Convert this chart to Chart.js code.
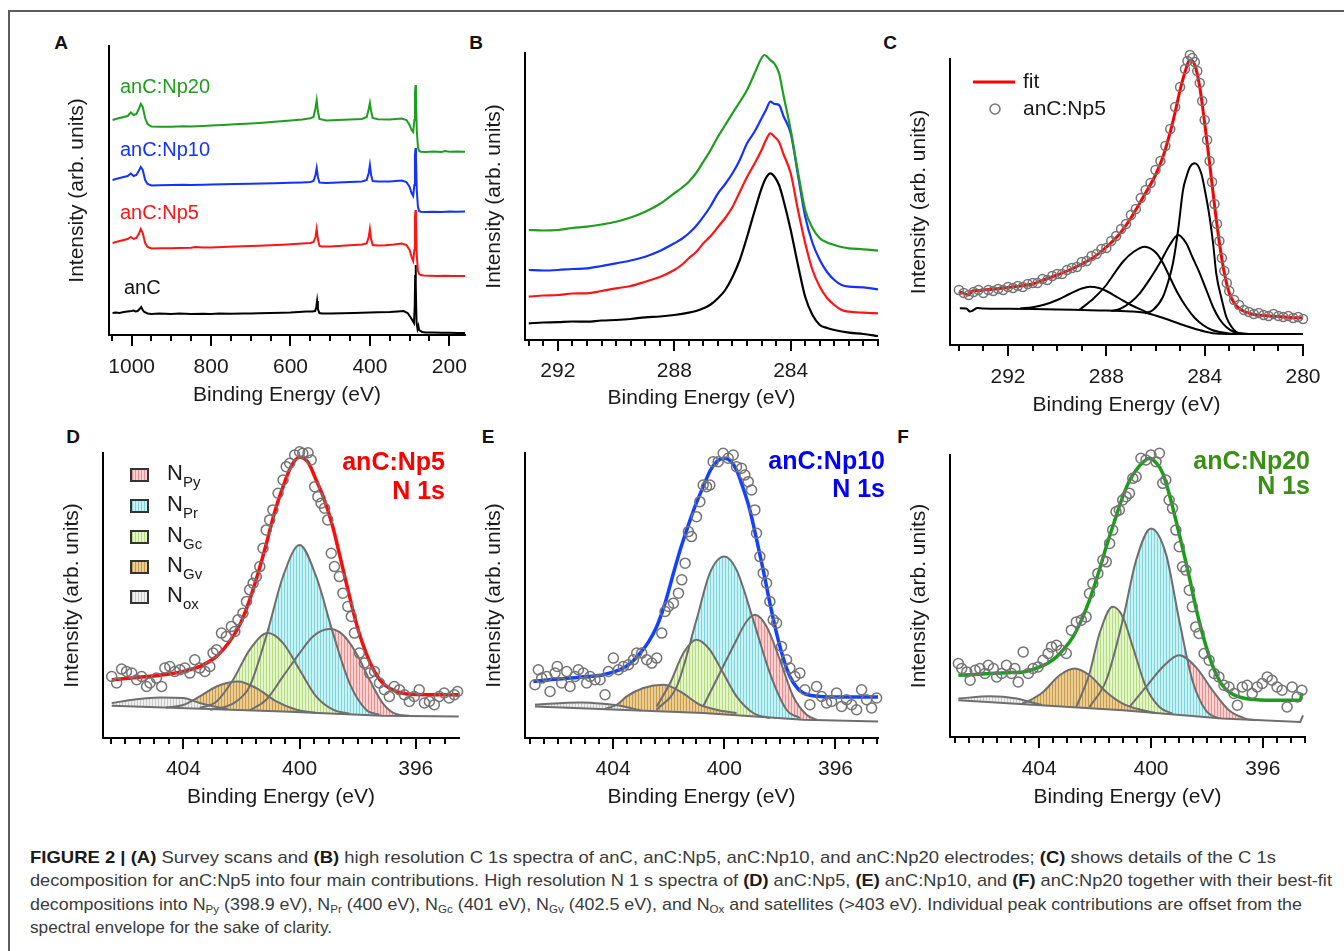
<!DOCTYPE html>
<html>
<head>
<meta charset="utf-8">
<title>XPS spectra of anC electrodes</title>
<script src="https://cdn.jsdelivr.net/npm/chart.js@4.4.1/dist/chart.umd.min.js"></script>
<style>
  body { margin: 0; background: #fff; width: 1344px; height: 951px; overflow: hidden; position: relative;
         font-family: "Liberation Sans", Arial, sans-serif; }
  .frame { position: absolute; left: 8px; top: 10px; width: 1400px; height: 1000px; border: 2px solid #5c5c5c; }
  canvas { position: absolute; }
  .tag { position: absolute; font-weight: bold; font-size: 19px; color: #111; transform: translate(-50%, -50%); }
  .cap { position: absolute; left: 30px; font-size: 17px; line-height: 18px; color: #3a3a3a; white-space: nowrap; transform-origin: 0 50%; }
  .cap b { color: #1a1a1a; }
  .cap sub { font-size: 11px; vertical-align: -3px; line-height: 0; }
</style>
</head>
<body>
<div class="frame"></div>
<div class="tag" style="left:61px;top:43px">A</div>
<div class="tag" style="left:476px;top:43px">B</div>
<div class="tag" style="left:890px;top:43px">C</div>
<div class="tag" style="left:73px;top:437px">D</div>
<div class="tag" style="left:488px;top:437px">E</div>
<div class="tag" style="left:903px;top:437px">F</div>

<div class="cap" id="cap1" style="top:849px"><b>FIGURE 2 | (A)</b> Survey scans and <b>(B)</b> high resolution C 1s spectra of anC, anC:Np5, anC:Np10, and anC:Np20 electrodes; <b>(C)</b> shows details of the C 1s</div>
<div class="cap" id="cap2" style="top:872px">decomposition for anC:Np5 into four main contributions. High resolution N 1 s spectra of <b>(D)</b> anC:Np5, <b>(E)</b> anC:Np10, and <b>(F)</b> anC:Np20 together with their best-fit</div>
<div class="cap" id="cap3" style="top:896px">decompositions into N<sub>Py</sub> (398.9 eV), N<sub>Pr</sub> (400 eV), N<sub>Gc</sub> (401 eV), N<sub>Gv</sub> (402.5 eV), and N<sub>Ox</sub> and satellites (&gt;403 eV). Individual peak contributions are offset from the</div>
<div class="cap" id="cap4" style="top:919px">spectral envelope for the sake of clarity.</div>

<script>
// ---------- (A) survey scans: [binding energy eV, intensity] ----------
const surveyAnC = [[1048,22],[1040,22.5],[1030,22],[1020,23],[1010,23.5],[1000,24],[995,24.5],[990,23.5],[985,24],[980,26],[976,28],[972,25],[968,23],[960,21.5],[950,21],[930,21.5],[900,21],[880,21.5],[850,21],[820,21.3],[800,21],[780,21.5],[750,21.2],[720,21.5],[700,21.4],[680,21.8],[650,22],[620,22.3],[600,22.5],[580,23],[560,23.5],[545,23.5],[538,24],[535,28],[533,34],[531,26],[527,22],[520,21.5],[500,21.5],[470,21.8],[440,22],[420,22.2],[400,22.5],[380,22.8],[350,23],[330,23.5],[315,24],[305,22],[298,18],[292,14],[289,12],[287,30],[286,60],[285,70],[284,50],[282.5,12],[280,6],[278,9],[276,5],[273,4],[268,3],[260,2.5],[240,2.5],[220,2.3],[200,2.2],[180,2.1],[160,2]];
const surveyNp5 = [[1048,92],[1040,93],[1030,94],[1020,95],[1010,96],[1002,98],[995,96],[988,97],[982,101],[977,106],[972,102],[966,92],[960,88],[950,86.5],[930,86.8],[900,86.7],[880,87],[850,87.3],[840,88],[820,87.5],[800,87.6],[770,88],[740,88.5],[700,89],[680,89.3],[650,89.8],[620,90.3],[600,90.8],[570,91.5],[550,92],[542,93],[537,98],[534,106],[531,96],[527,89],[520,88.5],[500,88.6],[480,89],[460,89.5],[440,90],[420,90.5],[408,91.5],[403,98],[400,106],[397,96],[393,90],[380,89.6],[360,89.8],[340,90.5],[320,91.5],[308,90],[300,85],[295,78],[291,74],[288,85],[286.5,118],[285,125],[284,115],[282,80],[279,64],[276,61],[272,60],[265,59.5],[250,59.3],[230,59],[210,59.2],[190,59],[170,59],[160,59]];
const surveyNp10 = [[1048,155],[1040,156],[1030,157],[1020,158],[1010,159],[1002,161.5],[995,159],[988,160],[982,164],[977,168],[972,165],[966,155],[960,151],[950,149.5],[930,149.8],[900,150],[870,150.3],[850,150],[820,150.3],[800,150.5],[770,150.8],[740,151],[700,151.3],[670,151.6],[640,151.8],[600,152.2],[570,152.6],[550,153],[542,154],[537,160],[534,167],[531,158],[527,152.5],[510,152],[480,152.4],[450,153],[420,153.5],[408,155],[403,162],[400,170],[397,160],[393,154],[380,153.5],[350,153.6],[320,154.5],[308,153],[300,148],[295,142],[291,139],[288,150],[286.5,180],[285,187],[284,178],[282,145],[279,128],[276,124],[272,123.3],[260,123],[240,123.2],[220,123],[200,123.5],[180,123.3],[160,123.5]];
const surveyNp20 = [[1048,215],[1040,216],[1030,217],[1020,218],[1010,219],[1002,222.5],[995,220],[988,221],[982,226],[977,231],[972,228],[966,217],[960,211],[950,208.5],[930,208.2],[900,208.3],[870,208.8],[850,208.5],[820,209],[800,209.5],[770,210],[740,210.7],[700,211.5],[670,212.3],[640,213.2],[600,214.5],[570,215.5],[550,216.7],[542,218],[537,227],[534,235],[531,224],[527,216],[510,214.5],[480,215],[450,215.5],[420,216],[408,218],[403,226],[400,232],[397,224],[393,217],[380,215.7],[350,215.5],[320,216.5],[308,215],[300,210],[295,205],[291,203],[288,215],[286.5,242],[285,250],[284,242],[282,205],[279,188],[276,184],[272,183.3],[260,183],[240,183.4],[220,183],[210,184],[200,183.3],[180,183.5],[160,183.3]];

// ---------- (B) C 1s high resolution ----------
const c1sAnC = [[293,16.7],[292.5,17.5],[292,17.8],[291.5,18.5],[291,18.3],[290.5,19.5],[290,20],[289.5,21],[289,22.7],[288.5,23.5],[288,25],[287.5,27.3],[287.25,29],[287,31.7],[286.75,35.5],[286.5,41.7],[286.25,50],[286,63],[285.75,80],[285.5,103],[285.25,128],[285,151.7],[284.85,162],[284.7,166.7],[284.55,163],[284.4,155],[284.25,140],[284,110],[283.75,75],[283.5,43],[283.25,25],[283,15],[282.75,12],[282.5,10],[282,7.3],[281.5,6],[281,4]];
const c1sNp5 = [[293,43.3],[292.5,44.5],[292,45],[291.5,46.5],[291,46.7],[290.5,49],[290,51.7],[289.5,54],[289,58.3],[288.5,63],[288,70],[287.75,75],[287.5,81.7],[287.25,88],[287,96.7],[286.75,104],[286.5,113],[286.25,122],[286,133],[285.75,148],[285.5,163],[285.25,176],[285,190],[284.85,200],[284.7,206.7],[284.55,203],[284.4,198],[284.25,186],[284,166.7],[283.75,130],[283.5,96.7],[283.25,70],[283,53.3],[282.75,42],[282.5,35],[282.25,30],[282,28.3],[281.5,27.3],[281,26.7]];
const c1sNp10 = [[293,70],[292.5,69.5],[292,70],[291.5,71],[291,71.7],[290.5,74],[290,76.7],[289.5,79.5],[289,83.3],[288.5,89],[288,96.7],[287.75,101],[287.5,106.7],[287.25,114],[287,123.3],[286.75,134],[286.5,146.7],[286.25,156],[286,166.7],[285.75,180],[285.5,196.7],[285.25,208],[285,221.7],[284.85,230],[284.7,238.3],[284.55,236],[284.4,235],[284.25,224],[284,206.7],[283.75,165],[283.5,123.3],[283.25,97],[283,80],[282.75,68],[282.5,60],[282.25,55],[282,53.3],[281.5,52.7],[281,50.7]];
const c1sNp20 = [[293,110],[292.5,109.5],[292,110],[291.5,112],[291,113.3],[290.5,115.5],[290,118.3],[289.5,122.5],[289,128.3],[288.5,136],[288,146.7],[287.75,152],[287.5,158.3],[287.25,167],[287,178.3],[286.75,190],[286.5,203.3],[286.25,215],[286,226.7],[285.75,238],[285.5,250],[285.25,266],[285,282],[284.9,285],[284.8,283],[284.7,280],[284.55,276],[284.4,266.7],[284.25,245],[284,210],[283.75,168],[283.5,130],[283.25,112],[283,101.7],[282.75,97.5],[282.5,95],[282.25,93],[282,91.7],[281.5,90.7],[281,89.3]];

// ---------- (C) C 1s decomposition of anC:Np5 ----------
const cMeasured = [[294.0,55],[293.8,52],[293.6,50],[293.4,53],[293.2,55],[293.0,52],[292.8,55],[292.6,54],[292.4,56],[292.2,55],[292.0,58],[291.8,57],[291.6,59],[291.4,58],[291.2,61],[291.0,62],[290.8,62],[290.6,66],[290.4,65],[290.2,69],[290.0,71],[289.8,71],[289.6,75],[289.4,77],[289.2,78],[289.0,83],[288.8,84],[288.6,89],[288.4,91],[288.2,96],[288.0,97],[287.8,104],[287.6,109],[287.4,116],[287.2,121],[287.0,130],[286.8,136],[286.6,147],[286.4,155],[286.2,162],[286.0,175],[285.8,184],[285.6,199],[285.4,216],[285.2,238],[285.0,258],[284.8,276],[284.7,284],[284.6,290],[284.5,287],[284.4,283],[284.3,274],[284.2,262],[284.1,244],[284.0,225],[283.9,205],[283.8,184],[283.7,163],[283.6,141],[283.5,121],[283.4,104],[283.3,87],[283.2,74],[283.1,62],[283.0,54],[282.8,45],[282.6,40],[282.4,35],[282.2,33],[282.0,31],[281.8,32],[281.6,30],[281.4,29],[281.2,31],[281.0,29],[280.8,28],[280.6,29],[280.4,27],[280.2,28],[280.0,26]];
const cFit = [[294.0,53.3],[293.8,51.7],[293.6,50],[293.45,54],[293.2,54.5],[293,55],[292.5,56],[292,57.5],[291.5,59],[291,61],[290.5,65.5],[290,70],[289.5,75],[289,81],[288.5,88],[288,98],[287.5,110],[287,127],[286.5,148],[286,170],[285.7,188],[285.4,213],[285.2,233],[285,255],[284.8,273],[284.6,285.5],[284.4,280],[284.2,258],[284,222],[283.8,182],[283.6,140],[283.4,102],[283.2,72],[283,52],[282.8,42],[282.5,35],[282,30.5],[281.5,29.3],[281,28.5],[280.5,27.6],[280,27]];
const cBackground = [[293.96,36.7],[293.7,36.5],[293.55,33.5],[293.4,35],[293.25,37],[293,36.5],[292,36.2],[291,35.9],[290,35.5],[289,35],[288,34.5],[287,33.5],[286.5,32.5],[286.2,31],[286,29.5],[285.5,25.5],[285,21],[284.5,17],[284,13.5],[283.67,11.8],[283.3,11.2],[283,11],[282,11],[281,11],[280,11]];
const cPeak1 = [[291.5,36.6],[291,37.8],[290.5,40.5],[290,45],[289.5,51],[289,56.5],[288.67,58.3],[288.3,57],[288,54],[287.5,47],[287,40],[286.5,34.3],[286.2,31]];
const cPeak2 = [[289.1,35],[288.5,47],[288,60],[287.72,70],[287.3,84],[286.9,93],[286.44,98.3],[285.96,91.7],[285.7,82],[285.42,68],[285.1,52],[284.75,38],[284.4,27],[284.07,20],[283.7,15],[283.39,13],[283,11.5],[282.6,11]];
const cPeak3 = [[287.8,34],[287.45,36],[287,43],[286.64,51.7],[286.2,67],[285.83,81.7],[285.42,100],[285.08,110],[284.75,101.7],[284.5,88],[284.2,71.7],[283.9,53],[283.66,38],[283.4,26],[283.12,18],[282.8,13],[282.5,11.5],[282.2,11]];
const cPeak4 = [[286.44,31.7],[286.1,35],[285.7,48],[285.5,62],[285.29,81.7],[285.08,115],[284.88,155],[284.72,170],[284.6,178],[284.4,181.7],[284.14,171.7],[283.97,152],[283.8,128],[283.65,100],[283.53,71.7],[283.3,45],[283.12,28],[282.9,18],[282.71,13],[282.4,11.3],[282.1,11]];

// ---------- (D) N 1s, anC:Np5 ----------
const dMeasured = [[406.47,61.6],[406.30,55],[406.13,69],[405.96,66.6],[405.78,65],[405.61,58.3],[405.44,61.6],[405.27,51.6],[405.15,55],[404.93,60],[404.75,51.6],[404.64,70],[404.47,71.6],[404.30,66.6],[404.12,68.3],[403.95,70],[403.78,65],[403.61,78.3],[403.44,70],[403.26,66.6],[403.09,71.6],[402.98,85],[402.86,88.3],[402.69,105],[402.52,101.6],[402.35,111.6],[402.23,106.6],[402.12,118.3],[401.95,125],[401.83,136.6],[401.72,148.3],[401.60,155],[401.49,161.6],[401.37,171.6],[401.26,190],[401.15,208.3],[401.03,218.3],[400.92,228.3],[400.74,245],[400.57,258.3],[400.46,271.6],[400.34,275],[400.17,283.3],[400.00,286.6],[399.89,285],[399.71,285.6],[399.60,278.3],[399.48,251.6],[399.37,241.6],[399.26,235],[399.14,230],[399.03,218.3],[398.91,185],[398.80,171.6],[398.63,161.6],[398.51,145],[398.34,131.6],[398.22,121.6],[398.11,105],[397.94,85],[397.77,75],[397.59,65],[397.42,66.6],[397.25,55],[397.08,48.3],[396.91,41.6],[396.74,51.6],[396.56,48.3],[396.39,43.3],[396.22,36.6],[396.05,41.6],[395.88,48.3],[395.70,35],[395.53,36.6],[395.36,33.3],[395.19,41.6],[395.02,45],[394.85,40],[394.67,43.3],[394.56,46.6]];
const dFit = [[406.47,58.3],[405.8,60],[405.15,61.7],[404.5,64],[404.0,66.7],[403.44,71.7],[402.86,81.7],[402.29,101.7],[402.0,117],[401.72,138.3],[401.43,165],[401.14,195],[400.86,226],[400.57,251.7],[400.29,272],[400.0,281],[399.71,276],[399.43,258.3],[399.14,238],[398.86,211.7],[398.57,177],[398.28,141.7],[398.0,110],[397.71,85],[397.43,67],[397.14,55],[396.85,49],[396.56,45.6],[396.0,43.5],[395.0,43.3],[394.52,43.3]];
const dBase = [[406.47,32.3],[400.57,26.6],[397.14,22.3],[394.52,21.6]];
const dOx = [[406.47,35],[405.73,38.3],[404.81,40.6],[404.01,40],[403.44,35],[402.86,31],[402.5,29]];
const dGv = [[404.6,30.5],[404.01,33],[403.44,41.6],[402.86,51.6],[402.12,56.6],[401.49,50],[400.8,36.6],[400.11,28.3],[399.43,25]];
const dGc = [[403.44,30],[402.86,36.6],[402.29,58.3],[401.72,88.3],[401.09,105],[400.57,95],[400.0,68.3],[399.43,41.6],[398.85,28.3],[398.28,24.3]];
const dPr = [[403.09,28.3],[402.52,31.6],[402.18,36.6],[401.72,51.7],[401.15,101.7],[400.57,161.7],[400.0,193.3],[399.43,161.7],[398.85,105],[398.28,55],[397.71,28.3],[397.25,23.3]];
const dPy = [[401.72,27.6],[401.15,38.3],[400.57,61.7],[400.0,85],[399.54,101.7],[398.97,109],[398.51,103.3],[398.05,85],[397.59,58.3],[397.14,35],[396.68,24],[396.22,22.3]];

// ---------- (E) N 1s, anC:Np10 ----------
const eMeasured = [[406.81,53.3],[406.69,68.3],[406.57,60],[406.39,61.6],[406.27,46.6],[406.09,65],[406.01,71.6],[405.85,55],[405.67,66.6],[405.55,51.6],[405.37,61.6],[405.25,68.3],[405.07,65],[404.95,55],[404.83,61.6],[404.65,58.3],[404.47,58.3],[404.29,43.3],[404.17,66.6],[403.99,80],[403.81,68.3],[403.63,71.6],[403.45,73.3],[403.27,78.3],[403.15,85],[402.97,85],[402.79,78.3],[402.61,75],[402.43,80],[402.25,105],[402.13,126.6],[402.01,131.6],[401.83,135],[401.65,145],[401.53,158.3],[401.41,175],[401.29,206.6],[401.18,201.6],[401.00,221.6],[400.88,236.6],[400.76,253.3],[400.64,251.6],[400.52,253.3],[400.40,276.6],[400.22,276.6],[400.04,285],[399.86,280],[399.68,283.3],[399.56,271.6],[399.38,270],[399.26,263.3],[399.14,256.6],[399.02,248.3],[398.90,228.3],[398.84,205],[398.72,181.6],[398.60,165],[398.48,155],[398.36,136.6],[398.24,118.3],[398.12,115],[397.94,91.6],[397.76,78.3],[397.64,70],[397.46,61.6],[397.28,65],[397.10,48.3],[396.92,33.3],[396.68,51.6],[396.50,41.6],[396.32,35],[396.14,36.6],[395.96,45],[395.78,31.6],[395.60,38.3],[395.42,33.3],[395.24,28.3],[395.06,48.3],[394.88,38.3],[394.70,30],[394.52,40]];
const eFit = [[406.87,56.6],[406.2,58.5],[405.55,60],[404.95,61.5],[404.35,63.3],[403.63,70],[403.33,76],[403.03,85],[402.73,96],[402.43,111.6],[402.13,135],[401.83,165],[401.59,188],[401.35,208.3],[401.05,232],[400.76,251.6],[400.5,268],[400.28,276.6],[399.98,280],[399.77,277],[399.56,268.3],[399.32,250],[399.08,228.3],[398.84,199],[398.6,168.3],[398.36,135],[398.12,105],[397.88,80],[397.64,61.6],[397.4,51],[397.16,45],[396.86,42.5],[396.56,41.6],[395.96,41],[394.46,41]];
const eBase = [[406.81,31.6],[400.76,25],[397.16,18.3],[394.46,16.6]];
const eOx = [[406.81,33.3],[405.19,35.6],[404.35,34.3],[403.75,32.3],[403.0,27.5]];
const eGv = [[404.3,29],[403.87,33.3],[403.51,41.6],[402.91,50],[402.19,53.3],[401.59,46.6],[400.88,33.3],[400.16,27.6],[399.56,25]];
const eGc = [[402.43,31.6],[401.95,55],[401.47,85],[401.0,98.3],[400.52,88.3],[400.04,65],[399.56,41.6],[398.96,25],[398.36,20]];
const ePr = [[402.43,28.3],[401.71,51.6],[401.0,118.3],[400.52,165],[400.0,181.6],[399.56,168.3],[398.96,118.3],[398.36,65],[397.76,28.3],[397.28,20]];
const ePy = [[400.76,31.6],[400.28,58.3],[399.68,91.6],[399.2,116.6],[398.9,123.3],[398.48,111.6],[398.0,78.3],[397.52,41.6],[397.04,23.3],[396.68,18.3]];

// ---------- (F) N 1s, anC:Np20 ----------
const fMeasured = [[406.89,73.4],[406.77,68.4],[406.59,65],[406.47,56.7],[406.29,66.7],[406.12,68.4],[405.94,63.4],[405.82,71.7],[405.64,68.4],[405.52,60],[405.34,63.4],[405.17,71.7],[404.99,63.4],[404.87,68.4],[404.75,55],[404.57,85],[404.39,63.4],[404.22,68.4],[404.04,70],[403.86,76.7],[403.68,83.4],[403.56,90],[403.38,91.7],[403.21,86.7],[403.03,83.4],[402.85,106.7],[402.67,115],[402.49,116.7],[402.32,120],[402.20,143.4],[402.08,153.4],[401.90,163.4],[401.72,176.7],[401.60,175],[401.48,193.4],[401.37,206.7],[401.25,225],[401.13,226.7],[401.01,236.7],[400.89,240],[400.77,243.4],[400.65,258.4],[400.53,260],[400.36,278.4],[400.18,276.7],[400.00,281.7],[399.82,275],[399.70,283.4],[399.58,253.4],[399.47,256.7],[399.35,236.7],[399.23,228.4],[399.11,206.7],[398.99,190],[398.87,170],[398.75,166.7],[398.63,146.7],[398.52,130],[398.40,110],[398.28,103.4],[398.10,83.4],[397.92,76.7],[397.74,63.4],[397.57,60],[397.39,51.7],[397.21,50],[397.03,43.4],[396.91,31.7],[396.73,50],[396.56,51.7],[396.38,43.4],[396.20,50],[396.02,53.4],[395.84,60],[395.67,56.7],[395.49,50],[395.31,46.7],[395.13,30],[394.95,50],[394.77,40],[394.60,46.7]];
const fFit = [[406.89,61.7],[406.3,62.5],[405.76,63.4],[405.15,64.2],[404.57,65],[403.98,70],[403.68,74],[403.38,80],[403.08,89],[402.79,100],[402.5,116],[402.2,136.7],[401.9,162],[401.6,190],[401.3,216],[401.01,240],[400.77,256],[400.53,266.7],[400.3,274],[400.06,278.4],[399.82,274],[399.58,263.4],[399.35,243],[399.11,216.7],[398.87,189],[398.63,160],[398.4,130],[398.16,103.4],[397.92,81],[397.68,63.4],[397.45,52],[397.21,45],[396.9,40.5],[396.62,38.4],[396.1,37],[395.67,36.7],[395.0,36.7],[394.66,36.7],[394.6,44]];
const fBase = [[406.89,36.7],[401.01,26.7],[397.45,18.4],[394.66,15],[394.56,21.7]];
const fOx = [[406.89,38.4],[405.76,40.7],[404.81,38.4],[404.33,35],[403.9,32]];
const fGv = [[404.6,33.5],[404.33,36.7],[403.86,45],[403.27,61.7],[402.73,68.4],[402.2,61.7],[401.6,45],[401.01,33.4],[400.3,26.7],[399.82,24]];
const fGc = [[402.67,30],[402.2,63.4],[401.84,103.4],[401.37,130],[401.01,120],[400.65,90],[400.18,50],[399.7,30],[399.23,23.4]];
const fPr = [[402.2,30],[401.6,56.7],[401.01,116.7],[400.53,176.7],[400.0,208.4],[399.47,183.4],[398.99,116.7],[398.52,56.7],[398.04,26.7],[397.57,18.4]];
const fPy = [[400.77,30],[400.18,50],[399.58,70],[398.99,81.7],[398.4,70],[397.8,46.7],[397.21,26.7],[396.62,18.4],[396.26,16.7]];

// key entries for the N 1s components
const componentKeys = ['Py', 'Pr', 'Gc', 'Gv', 'ox'];

Chart.defaults.font.family = '"Liberation Sans", Arial, sans-serif';
Chart.defaults.color = '#1a1a1a';
const FONT = '"Liberation Sans", Arial, sans-serif';

const pts = arr => arr.map(p => ({x: p[0], y: p[1]}));

// vertical-stripe fills for the N 1s components
function hatch(base, stripe) {
    const c = document.createElement('canvas');
    c.width = 3; c.height = 4;
    const g = c.getContext('2d');
    g.fillStyle = base; g.fillRect(0, 0, 3, 4);
    g.fillStyle = stripe; g.fillRect(0, 0, 1, 4);
    return g.createPattern(c, 'repeat');
}
const fills = {
    Py: hatch('#fbd3d3', '#ee8d8d'),
    Pr: hatch('#c9f2f4', '#7dd6dd'),
    Gc: hatch('#e4f5c9', '#b3dd7d'),
    Gv: hatch('#e9cd94', '#c99a48'),
    ox: hatch('#efefef', '#cacaca')
};

function line(data, color, width, smooth) {
    return { data: pts(data), borderColor: color, borderWidth: width, pointRadius: 0, fill: false,
             tension: 0, cubicInterpolationMode: smooth ? 'monotone' : 'default' };
}
function circles(data, r) {
    return { data: pts(data), showLine: false, pointRadius: r, pointBorderWidth: 1.5, pointBorderColor: '#747474',
             pointBackgroundColor: 'rgba(0,0,0,0)', clip: false };
}
function component(data, pattern, baseIndex) {
    return { data: pts(data), borderColor: '#6e6e6e', borderWidth: 2, pointRadius: 0,
             cubicInterpolationMode: 'monotone', fill: baseIndex, backgroundColor: pattern };
}

// minor/major tick marks under the energy axis
function tickMarks(majorStep) {
    return {
        id: 'tickMarks',
        afterDraw(chart) {
            const sc = chart.scales.x, ctx = chart.ctx;
            ctx.save();
            ctx.strokeStyle = '#000';
            ctx.lineWidth = 2;
            sc.ticks.forEach(t => {
                const r = t.value / majorStep;
                const major = Math.abs(r - Math.round(r)) < 1e-6;
                const px = Math.round(sc.getPixelForValue(t.value));
                ctx.beginPath();
                ctx.moveTo(px, sc.top);
                ctx.lineTo(px, sc.top + (major ? 11 : 6));
                ctx.stroke();
            });
            ctx.restore();
        }
    };
}

// box = canvas rectangle on the page, area = plot rectangle on the page
function makePanel(box, area, x, yMax, datasets, pads, overlay) {
    const canvas = document.createElement('canvas');
    canvas.width = box.w; canvas.height = box.h;
    canvas.style.left = box.l + 'px'; canvas.style.top = box.t + 'px';
    document.body.appendChild(canvas);
    const plugins = [tickMarks(x.major)];
    if (overlay) plugins.push({ id: 'overlay', afterDraw(chart) {
        const ctx = chart.ctx;
        ctx.save(); ctx.translate(-box.l, -box.t); overlay(ctx); ctx.restore();
    }});
    return new Chart(canvas, {
        type: 'line',
        data: { datasets: datasets },
        options: {
            responsive: false,
            animation: false,
            devicePixelRatio: 1,
            layout: { padding: { left: 0, top: area.t - box.t, right: box.l + box.w - area.r, bottom: 0 } },
            plugins: { legend: { display: false }, tooltip: { enabled: false },
                       filler: { drawTime: 'beforeDatasetsDraw' } },
            scales: {
                x: {
                    type: 'linear', reverse: true, min: x.min, max: x.max,
                    grid: { display: false, drawTicks: false },
                    border: { display: true, color: '#000', width: 2 },
                    ticks: {
                        stepSize: x.step, autoSkip: false, maxRotation: 0, includeBounds: false,
                        padding: pads.tick, font: { size: 21 }, color: '#1a1a1a',
                        callback: v => { const r = v / x.major; return Math.abs(r - Math.round(r)) < 1e-6 ? String(Math.round(v)) : ''; }
                    },
                    title: { display: true, text: 'Binding Energy (eV)', font: { size: 21 }, color: '#1a1a1a',
                             padding: { top: 0, bottom: pads.xTitle } },
                    afterFit: s => { s.height = box.t + box.h - area.b; s.paddingLeft = 0; s.paddingRight = 0; }
                },
                y: {
                    min: 0, max: yMax,
                    grid: { display: false, drawTicks: false },
                    border: { display: true, color: '#000', width: 2 },
                    ticks: { display: false },
                    title: { display: true, text: 'Intensity (arb. units)', font: { size: 21 }, color: '#1a1a1a',
                             padding: { top: pads.yTitle, bottom: 0 } },
                    afterFit: s => { s.width = area.l - box.l; s.paddingTop = 0; s.paddingBottom = 0; }
                }
            }
        },
        plugins: plugins
    });
}

function label(ctx, text, x, y, color, font, align) {
    ctx.font = font;
    ctx.fillStyle = color;
    ctx.textAlign = align || 'left';
    ctx.textBaseline = 'middle';
    ctx.fillText(text, x, y);
}

const RED = '#ff1414', BLUE = '#1432ff', GREEN = '#1e9e1e';

// (A) survey
makePanel({l: 40, t: 40, w: 440, h: 380}, {l: 109, t: 46, r: 465, b: 335},
    {min: 160.5, max: 1057, step: 50, major: 200}, 289,
    [line(surveyNp20, GREEN, 2), line(surveyNp10, BLUE, 2), line(surveyNp5, RED, 2), line(surveyAnC, '#000', 2)],
    {tick: 20, xTitle: 12, yTitle: 25},
    ctx => {
        const f = '20px ' + FONT;
        label(ctx, 'anC:Np20', 120, 87, GREEN, f);
        label(ctx, 'anC:Np10', 120, 150, BLUE, f);
        label(ctx, 'anC:Np5', 120, 213, RED, f);
        label(ctx, 'anC', 124, 288, '#111', f);
    });

// (B) C 1s
makePanel({l: 470, t: 40, w: 420, h: 380}, {l: 525, t: 53, r: 878, b: 340},
    {min: 281.0, max: 293.13, step: 0.5, major: 4}, 287,
    [line(c1sNp20, GREEN, 2.2, true), line(c1sNp10, BLUE, 2.2, true), line(c1sNp5, RED, 2.2, true), line(c1sAnC, '#000', 2.2, true)],
    {tick: 19, xTitle: 9, yTitle: 12});

// (C) C 1s fit of anC:Np5
makePanel({l: 880, t: 40, w: 440, h: 380}, {l: 950, t: 59, r: 1303, b: 345},
    {min: 280, max: 294.36, step: 1, major: 4}, 286,
    [circles(cMeasured, 4.5), line(cFit, '#ff0000', 3, true),
     line(cPeak1, '#000', 2, true), line(cPeak2, '#000', 2, true), line(cPeak3, '#000', 2, true),
     line(cPeak4, '#000', 2, true), line(cBackground, '#000', 2, true)],
    {tick: 20, xTitle: 2, yTitle: 27},
    ctx => {
        ctx.strokeStyle = '#ff0000'; ctx.lineWidth = 3;
        ctx.beginPath(); ctx.moveTo(973, 82); ctx.lineTo(1015, 82); ctx.stroke();
        ctx.strokeStyle = '#747474'; ctx.lineWidth = 1.5;
        ctx.beginPath(); ctx.arc(995, 109, 5, 0, Math.PI * 2); ctx.stroke();
        const f = '21px ' + FONT;
        label(ctx, 'fit', 1023, 82, '#1a1a1a', f);
        label(ctx, 'anC:Np5', 1023, 109, '#1a1a1a', f);
    });

// N 1s panels: circles, fit, five components filled down to the background line
function n1sSets(meas, fit, fitColor, ox, gv, gc, pr, py, base) {
    return [circles(meas, 5), line(fit, fitColor, 3.5, true),
            component(ox, fills.ox, 7), component(gv, fills.Gv, 7), component(gc, fills.Gc, 7),
            component(pr, fills.Pr, 7), component(py, fills.Py, 7), line(base, '#6e6e6e', 2, false)];
}
function nameTag(ctx, name, right, y1, y2, color) {
    const f = 'bold 25px ' + FONT;
    label(ctx, name, right, y1, color, f, 'right');
    label(ctx, 'N 1s', right, y2, color, f, 'right');
}

makePanel({l: 50, t: 430, w: 420, h: 385}, {l: 103, t: 453, r: 459, b: 738},
    {min: 394.51, max: 406.77, step: 0.5, major: 4}, 285.3,
    n1sSets(dMeasured, dFit, '#ff0a0a', dOx, dGv, dGc, dPr, dPy, dBase),
    {tick: 19, xTitle: 5, yTitle: 10},
    ctx => {
        nameTag(ctx, 'anC:Np5', 445, 463, 492, '#ff0000');
        const rows = [475, 506, 537, 567, 597];
        componentKeys.forEach((k, i) => {
            const y = rows[i];
            ctx.fillStyle = fills[k];
            ctx.fillRect(131, y - 6, 17, 12);
            ctx.strokeStyle = '#333'; ctx.lineWidth = 2;
            ctx.strokeRect(131, y - 6, 17, 12);
            label(ctx, 'N', 167, y - 1, '#1a1a1a', '22px ' + FONT);
            label(ctx, k, 183, y + 8, '#1a1a1a', '15px ' + FONT);
        });
    });

makePanel({l: 470, t: 430, w: 420, h: 385}, {l: 525, t: 453, r: 878, b: 738},
    {min: 394.47, max: 407.17, step: 0.5, major: 4}, 285.3,
    n1sSets(eMeasured, eFit, '#1440ff', eOx, eGv, eGc, ePr, ePy, eBase),
    {tick: 19, xTitle: 5, yTitle: 12},
    ctx => nameTag(ctx, 'anC:Np10', 885, 462, 490, '#0000ff'));

makePanel({l: 890, t: 430, w: 430, h: 385}, {l: 950, t: 455, r: 1305, b: 737},
    {min: 394.49, max: 407.19, step: 0.5, major: 4}, 281.7,
    n1sSets(fMeasured, fFit, '#15a015', fOx, fGv, fGc, fPr, fPy, fBase),
    {tick: 20, xTitle: 5, yTitle: 17},
    ctx => nameTag(ctx, 'anC:Np20', 1310, 462, 487, '#3a8f14'));

// fit each caption line to its column width
const capWidths = {cap1: 1246, cap2: 1302, cap3: 1272, cap4: 302};
Object.keys(capWidths).forEach(id => {
    const el = document.getElementById(id);
    const s = capWidths[id] / el.getBoundingClientRect().width;
    el.style.transform = 'scaleX(' + s.toFixed(4) + ')';
});
</script>
</body>
</html>
